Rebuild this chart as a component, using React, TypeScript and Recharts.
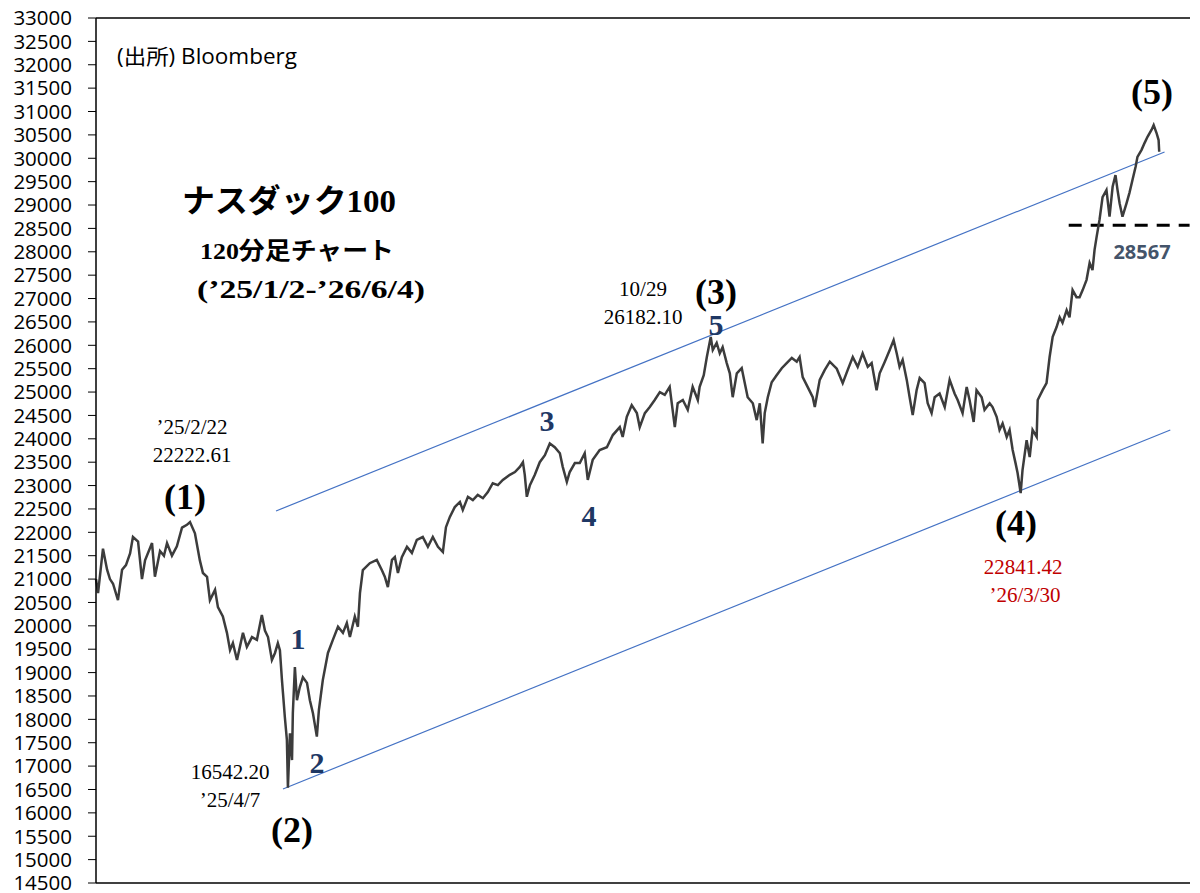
import { LineChart, Line, XAxis, YAxis, ReferenceLine } from 'recharts';

// days since '25/1/2 (120-minute bars)
const dayIdx = [
  0, 1, 3.4, 5.4, 6.8, 8.3, 10.7, 12.7, 14.6, 16.6,
  18, 20.5, 22.4, 23.9, 27.3, 28.7, 31.2, 33.1, 34.6, 37,
  39.4, 41.9, 44.3, 45.8, 48.2, 50.6, 52.1, 54.1, 55.5, 58,
  59.4, 61.8, 63.8, 65.3, 66.7, 68.7, 70.1, 71.6, 73.5, 76,
  78.4, 80.8, 82.3, 83.8, 85.7, 87.2, 88.6, 89.6, 90.6, 91.1,
  92, 93, 93.5, 94.5, 95.5, 95.9, 96.9, 97.9, 99.3, 100.8,
  102.8, 104.2, 105.7, 107.6, 108.6, 110.5, 113, 115.4, 117.9, 120.3,
  122.2, 123.7, 126.1, 127.6, 128.6, 130, 133.4, 136.8, 139.3, 140.7,
  142.2, 144.2, 145.6, 147.1, 149, 151.5, 153.9, 156.3, 159.2, 161.7,
  164.1, 166.6, 169, 170.5, 172.4, 174.8, 177.3, 178.7, 181.2, 183.6,
  186, 188.5, 190.9, 193.3, 195.8, 198.2, 201.6, 204.1, 206.5, 208,
  208.9, 209.9, 211.4, 213.8, 216.2, 218.7, 221.1, 223.5, 226, 227.4,
  229.4, 230.8, 233.3, 235.7, 238.1, 239.6, 242, 245.4, 248.9, 251.8,
  255.2, 256.6, 258.6, 261, 263.5, 264.9, 267.4, 269.8, 272.2, 274.7,
  277.1, 279.5, 282, 283.4, 285.9, 288.3, 290.7, 293.2, 294.1, 296.1,
  297.6, 299.5, 300.5, 302.4, 303.9, 305.3, 307.3, 308.8, 310.2, 312.2,
  314.6, 316.1, 317.5, 320, 321.9, 323.4, 324.8, 325.8, 327.3, 329.2,
  331.6, 334.1, 336.5, 339, 341.4, 342.8, 344.3, 346.7, 349.2, 350.2,
  352.6, 355, 357.5, 360.9, 363.8, 366.2, 368.7, 371.1, 373.5, 376,
  377.9, 380.3, 381.8, 384.2, 386.7, 388.6, 390.1, 391.5, 393, 395,
  396.4, 397.9, 399.8, 401.3, 403.7, 405.2, 407.1, 408.6, 411, 413.5,
  415.9, 418.3, 419.8, 422.2, 424.2, 425.6, 427.6, 429, 431.5, 432.9,
  435.4, 436.8, 438.8, 440.2, 441.7, 443.7, 445.1, 446.6, 448, 449,
  450.5, 451.4, 453.4, 454.9, 456.3, 458.3, 458.8, 461.2, 463.1, 464.6,
  466.1, 468, 469.5, 470.9, 472.9, 474.3, 475.8, 477.7, 479.2, 480.7,
  482.6, 484.1, 485.5, 486.5, 487.5, 488.9, 490.4, 492.3, 493.8, 495.3,
  496.7, 497.7, 498.7, 500.1, 502.1, 503.5, 505, 506.5, 507.4, 509.4,
  510.9, 512.3, 514.3, 515.3, 516.7, 517.7, 518,
];

const ndx100 = [
  21000, 20700, 21650, 21200, 21000, 20900, 20550, 21200, 21300, 21550,
  21900, 21800, 21000, 21400, 21770, 21050, 21600, 21500, 21770, 21500,
  21700, 22100, 22160, 22220, 21980, 21400, 21130, 21050, 20550, 20770,
  20400, 20200, 19850, 19480, 19630, 19270, 19550, 19850, 19550, 19760,
  19700, 20230, 19900, 19760, 19270, 19420, 19630, 19480, 18840, 18560,
  18050, 17560, 16540, 17700, 17130, 18130, 19120, 18410, 18690, 18900,
  18780, 18410, 18130, 17630, 18200, 18840, 19420, 19700, 19980, 19850,
  20060, 19760, 20200, 19980, 20700, 21190, 21340, 21410, 21190, 21050,
  20830, 21410, 21470, 21130, 21470, 21690, 21560, 21840, 21900, 21690,
  21900, 21690, 21580, 22110, 22330, 22540, 22650, 22480, 22760, 22690,
  22800, 22730, 22860, 23050, 23010, 23120, 23230, 23290, 23400, 23500,
  23230, 22760, 23010, 23230, 23500, 23650, 23900, 23820, 23690, 23400,
  23080, 23290, 23480, 23480, 23690, 23120, 23550, 23760, 23820, 24080,
  24250, 24040, 24470, 24720, 24550, 24250, 24550, 24680, 24830, 25000,
  24940, 25110, 24250, 24760, 24830, 24620, 25110, 24830, 25110, 25360,
  25750, 26180, 25900, 26050, 25830, 25960, 25620, 25400, 24890, 25400,
  25510, 25190, 24890, 24760, 24400, 24760, 23900, 24550, 24890, 25210,
  25360, 25510, 25620, 25730, 25650, 25750, 25320, 25110, 24890, 24680,
  25260, 25470, 25650, 25500, 25190, 25470, 25750, 25540, 25830, 25540,
  25620, 25040, 25400, 25640, 25900, 26110, 25830, 25540, 25690, 25260,
  24890, 24510, 25040, 25300, 25190, 24760, 24550, 24890, 24970, 24680,
  25260, 24970, 24830, 24550, 25110, 24830, 24360, 25040, 24890, 24620,
  24760, 24680, 24470, 24190, 24330, 24040, 24190, 23760, 23480, 23270,
  22840, 23330, 23970, 23610, 24190, 24040, 24830, 25040, 25190, 25750,
  26180, 26390, 26600, 26480, 26750, 26600, 27180, 27030, 27030, 27180,
  27400, 27760, 27610, 28040, 28320, 28680, 29170, 29320, 28750, 29390,
  29640, 29320, 29040, 28750, 29040, 29260, 29540, 29820, 30030, 30180,
  30330, 30460, 30610, 30710, 30540, 30390, 30140,
];

const yTicks = [
  14500, 15000, 15500, 16000, 16500, 17000, 17500, 18000, 18500, 19000,
  19500, 20000, 20500, 21000, 21500, 22000, 22500, 23000, 23500, 24000,
  24500, 25000, 25500, 26000, 26500, 27000, 27500, 28000, 28500, 29000,
  29500, 30000, 30500, 31000, 31500, 32000, 32500, 33000,
];

// trend channel ends (day, price)
const upperChannel = [{ x: 87.7, y: 22456 }, { x: 520.6, y: 30134 }];
const lowerChannel = [{ x: 91.1, y: 16511 }, { x: 523.4, y: 24189 }];
const supportLevel = 28567;

const data = dayIdx.map((d, i) => ({ day: d, price: ndx100[i] }));

const SERIF = "'Liberation Serif', 'Noto Sans CJK JP', serif";
const NAVY = '#1F3864';
const RED = '#C00000';

type Note = { text: string; x: number; y: number; size: number; color?: string; bold?: boolean; anchor?: string; font?: string; len?: number };

const notes: Note[] = [
  { text: '(出所) Bloomberg', x: 117, y: 56, size: 21, anchor: 'start', font: "'Open Sans', 'Noto Sans CJK JP', sans-serif", len: 180 },
  { text: 'ナスダック100', x: 289, y: 201, size: 32, bold: true, len: 214 },
  { text: '120分足チャート', x: 297, y: 251, size: 24, bold: true, len: 194 },
  { text: "(’25/1/2-’26/6/4)", x: 311, y: 289, size: 25, bold: true, len: 228 },
  { text: '’25/2/22', x: 192, y: 427, size: 21 },
  { text: '22222.61', x: 192, y: 455, size: 21 },
  { text: '(1)', x: 185, y: 497, size: 36, bold: true },
  { text: '1', x: 298, y: 638, size: 30, color: NAVY, bold: true },
  { text: '2', x: 317, y: 762, size: 30, color: NAVY, bold: true },
  { text: '16542.20', x: 230, y: 772, size: 21 },
  { text: '’25/4/7', x: 230, y: 800, size: 21 },
  { text: '(2)', x: 292, y: 830, size: 36, bold: true },
  { text: '3', x: 547, y: 420, size: 30, color: NAVY, bold: true },
  { text: '4', x: 589, y: 515, size: 30, color: NAVY, bold: true },
  { text: '10/29', x: 643, y: 289, size: 21 },
  { text: '26182.10', x: 643, y: 317, size: 21 },
  { text: '(3)', x: 716, y: 292, size: 36, bold: true },
  { text: '5', x: 716, y: 324, size: 30, color: NAVY, bold: true },
  { text: '(4)', x: 1016, y: 523, size: 36, bold: true },
  { text: '22841.42', x: 1023, y: 567, size: 21, color: RED },
  { text: '’26/3/30', x: 1025, y: 595, size: 21, color: RED },
  { text: '(5)', x: 1152, y: 92, size: 36, bold: true },
  { text: '28567', x: 1142, y: 251, size: 20, bold: true, color: '#44546A', font: "'Open Sans', sans-serif" },
];

export default function App() {
  return (
    <div style={{ position: 'absolute', left: 0, top: 0, width: 1200, height: 893, background: '#fff' }}>
      <style>{'body{margin:0}'}</style>
      <LineChart width={1200} height={893} data={data} margin={{ top: 18, right: 10, bottom: 9, left: 0 }}>
        <XAxis
          type="number"
          dataKey="day"
          domain={[0, 533]}
          tick={false}
          tickLine={false}
          height={1}
          axisLine={{ stroke: '#000', strokeWidth: 1.5 }}
        />
        <YAxis
          type="number"
          domain={[14500, 33000]}
          ticks={yTicks}
          interval={0}
          width={96}
          tickSize={8}
          tickMargin={16}
          axisLine={{ stroke: '#000', strokeWidth: 1.5 }}
          tickLine={{ stroke: '#000' }}
          tick={{ fill: '#000', fontSize: 20.5, fontFamily: "'Open Sans', sans-serif" }}
        />
        <ReferenceLine y={33000} stroke="#000" strokeWidth={1.5} />
        <ReferenceLine segment={upperChannel} stroke="#4472C4" strokeWidth={1.2} ifOverflow="visible" />
        <ReferenceLine segment={lowerChannel} stroke="#4472C4" strokeWidth={1.2} ifOverflow="visible" />
        <ReferenceLine
          segment={[{ x: 473.9, y: supportLevel }, { x: 532.8, y: supportLevel }]}
          stroke="#000"
          strokeWidth={3}
          strokeDasharray="13 9"
          ifOverflow="visible"
        />
        <Line
          type="linear"
          dataKey="price"
          stroke="#3c3c3c"
          strokeWidth={2.5}
          dot={false}
          isAnimationActive={false}
        />
      </LineChart>
      <svg width={1200} height={893} style={{ position: 'absolute', left: 0, top: 0, pointerEvents: 'none' }}>
        {notes.map((n, i) => (
          <text
            key={i}
            x={n.x}
            y={n.y}
            fontSize={n.size}
            fill={n.color ?? '#000'}
            fontWeight={n.bold ? 'bold' : 'normal'}
            fontFamily={n.font ?? SERIF}
            textAnchor={n.anchor ?? 'middle'}
            dominantBaseline="central"
            textLength={n.len}
            lengthAdjust={n.len ? 'spacingAndGlyphs' : undefined}
          >
            {n.text}
          </text>
        ))}
      </svg>
    </div>
  );
}
